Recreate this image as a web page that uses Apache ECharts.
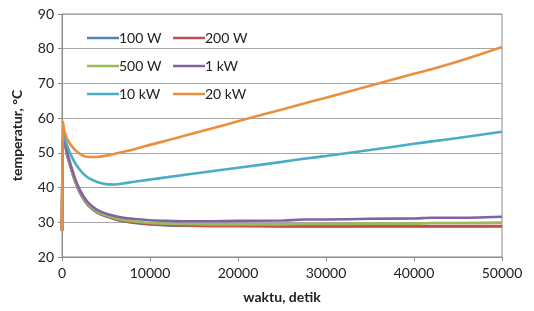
<!DOCTYPE html>
<html>
<head>
<meta charset="utf-8">
<script src="https://cdn.jsdelivr.net/npm/echarts@6/dist/echarts.min.js"></script>
<style>
	html, body { margin: 0; padding: 0; background: #fff; }
	#main { width: 534px; height: 311px; }
</style>
</head>
<body>
<div id="main"></div>
<script>
// time axis (detik)
var time = [0, 100, 300, 600, 1000, 1500, 2000, 2500, 3000, 4000, 5000, 6000, 7000, 8000,
	10000, 12000, 14000, 17000, 20000, 25000, 27500, 30000, 35000, 40000, 42000, 45000, 50000];

var names = ['100 W', '200 W', '500 W', '1 kW', '10 kW', '20 kW'];
var colors = ['#4F81BD', '#C0504D', '#9BBB59', '#8064A2', '#4BACC6', '#EB8F3E'];

var w100 = [27.5, 56.3, 53.2, 49.2, 45.7, 41.7, 38.7, 36.5, 34.8, 32.8, 31.7, 30.9, 30.3, 29.9,
	29.4, 29.1, 29.0, 28.9, 28.9, 28.8, 28.8, 28.8, 28.8, 28.8, 28.8, 28.8, 28.8];
var w200 = [27.5, 56.5, 53.3, 49.3, 45.8, 41.8, 38.8, 36.6, 34.9, 32.9, 31.8, 31.0, 30.4, 30.0,
	29.5, 29.2, 29.1, 29.0, 29.0, 28.9, 28.9, 28.9, 28.9, 28.9, 28.9, 28.9, 28.9];
var w500 = [27.5, 56.5, 53.5, 49.5, 46.0, 42.0, 39.0, 36.8, 35.1, 33.1, 32.0, 31.2, 30.7, 30.3,
	29.8, 29.6, 29.5, 29.4, 29.4, 29.4, 29.5, 29.5, 29.6, 29.6, 29.8, 29.8, 29.9];
var kw1 = [27.5, 57.0, 54.0, 50.0, 46.5, 42.5, 39.5, 37.3, 35.6, 33.6, 32.5, 31.8, 31.3, 31.0,
	30.6, 30.4, 30.3, 30.3, 30.4, 30.5, 30.8, 30.8, 31.0, 31.1, 31.3, 31.3, 31.6];
var kw10 = [27.5, 57.0, 54.5, 52.0, 49.5, 47.0, 45.2, 43.8, 42.8, 41.6, 41.0, 40.9, 41.2, 41.6,
	42.3, 43.0, 43.7, 44.7, 45.7, 47.4, 48.3, 49.1, 50.8, 52.6, 53.3, 54.3, 56.1];
var kw20 = [27.5, 59.0, 56.0, 54.0, 52.3, 50.8, 49.8, 49.1, 48.8, 48.8, 49.2, 49.7, 50.3, 50.9,
	52.3, 53.6, 55.0, 57.0, 59.1, 62.5, 64.2, 65.9, 69.3, 72.8, 74.1, 76.3, 80.5];

var values = [w100, w200, w500, kw1, kw10, kw20];

var FONT = 'Lato';

function pairs(v) {
	var out = [];
	for (var i = 0; i < time.length; i++) {
		out.push([time[i], v[i]]);
	}
	return out;
}

// legend: 2 columns x 3 rows, inside the plot
var legendPos = [[82, 26], [168, 26], [82, 54], [168, 54], [82, 82], [168, 82]];
var legends = [];
var series = [];
for (var i = 0; i < names.length; i++) {
	legends.push({
		data: [names[i]],
		left: legendPos[i][0],
		top: legendPos[i][1],
		itemWidth: 32,
		itemHeight: 14,
		itemGap: 0,
		icon: 'path://M0,6 L32,6 L32,8.5 L0,8.5 Z',
		textStyle: { fontFamily: FONT, fontSize: 14, color: '#222', padding: [0, 0, 0, -5] }
	});
	series.push({
		name: names[i],
		type: 'line',
		data: pairs(values[i]),
		showSymbol: false,
		smooth: 0.2,
		color: colors[i],
		lineStyle: { width: 2.6, color: colors[i] },
		animation: false
	});
}

var myChart = echarts.init(document.getElementById('main'));
var option = {
	backgroundColor: '#fff',
	animation: false,
	grid: {
		left: 62, right: 32, top: 14, bottom: 54,
		show: true,
		borderColor: '#8c8c8c',
		borderWidth: 1
	},
	legend: legends,
	xAxis: {
		type: 'value',
		min: 0, max: 50000, interval: 10000,
		name: 'waktu, detik',
		nameLocation: 'middle',
		nameGap: 33,
		nameTextStyle: { fontFamily: FONT, fontSize: 14, fontWeight: 'bold', color: '#222' },
		axisLine: { lineStyle: { color: '#8c8c8c' } },
		axisTick: { show: true, length: 4, lineStyle: { color: '#8c8c8c' } },
		splitLine: { show: false },
		axisLabel: {
			fontFamily: FONT, fontSize: 14, color: '#222', margin: 9,
			formatter: function(v) { return String(v); }
		}
	},
	yAxis: {
		type: 'value',
		min: 20, max: 90, interval: 10,
		name: 'temperatur, °C',
		nameLocation: 'middle',
		nameGap: 38,
		nameTextStyle: { fontFamily: FONT, fontSize: 14, fontWeight: 'bold', color: '#222' },
		axisLine: { show: true, lineStyle: { color: '#8c8c8c' } },
		axisTick: { show: true, length: 4, lineStyle: { color: '#8c8c8c' } },
		splitLine: { show: true, lineStyle: { color: '#a6a6a6', width: 1 } },
		axisLabel: { fontFamily: FONT, fontSize: 14, color: '#222', margin: 8 }
	},
	series: series
};
myChart.setOption(option);
</script>
</body>
</html>
